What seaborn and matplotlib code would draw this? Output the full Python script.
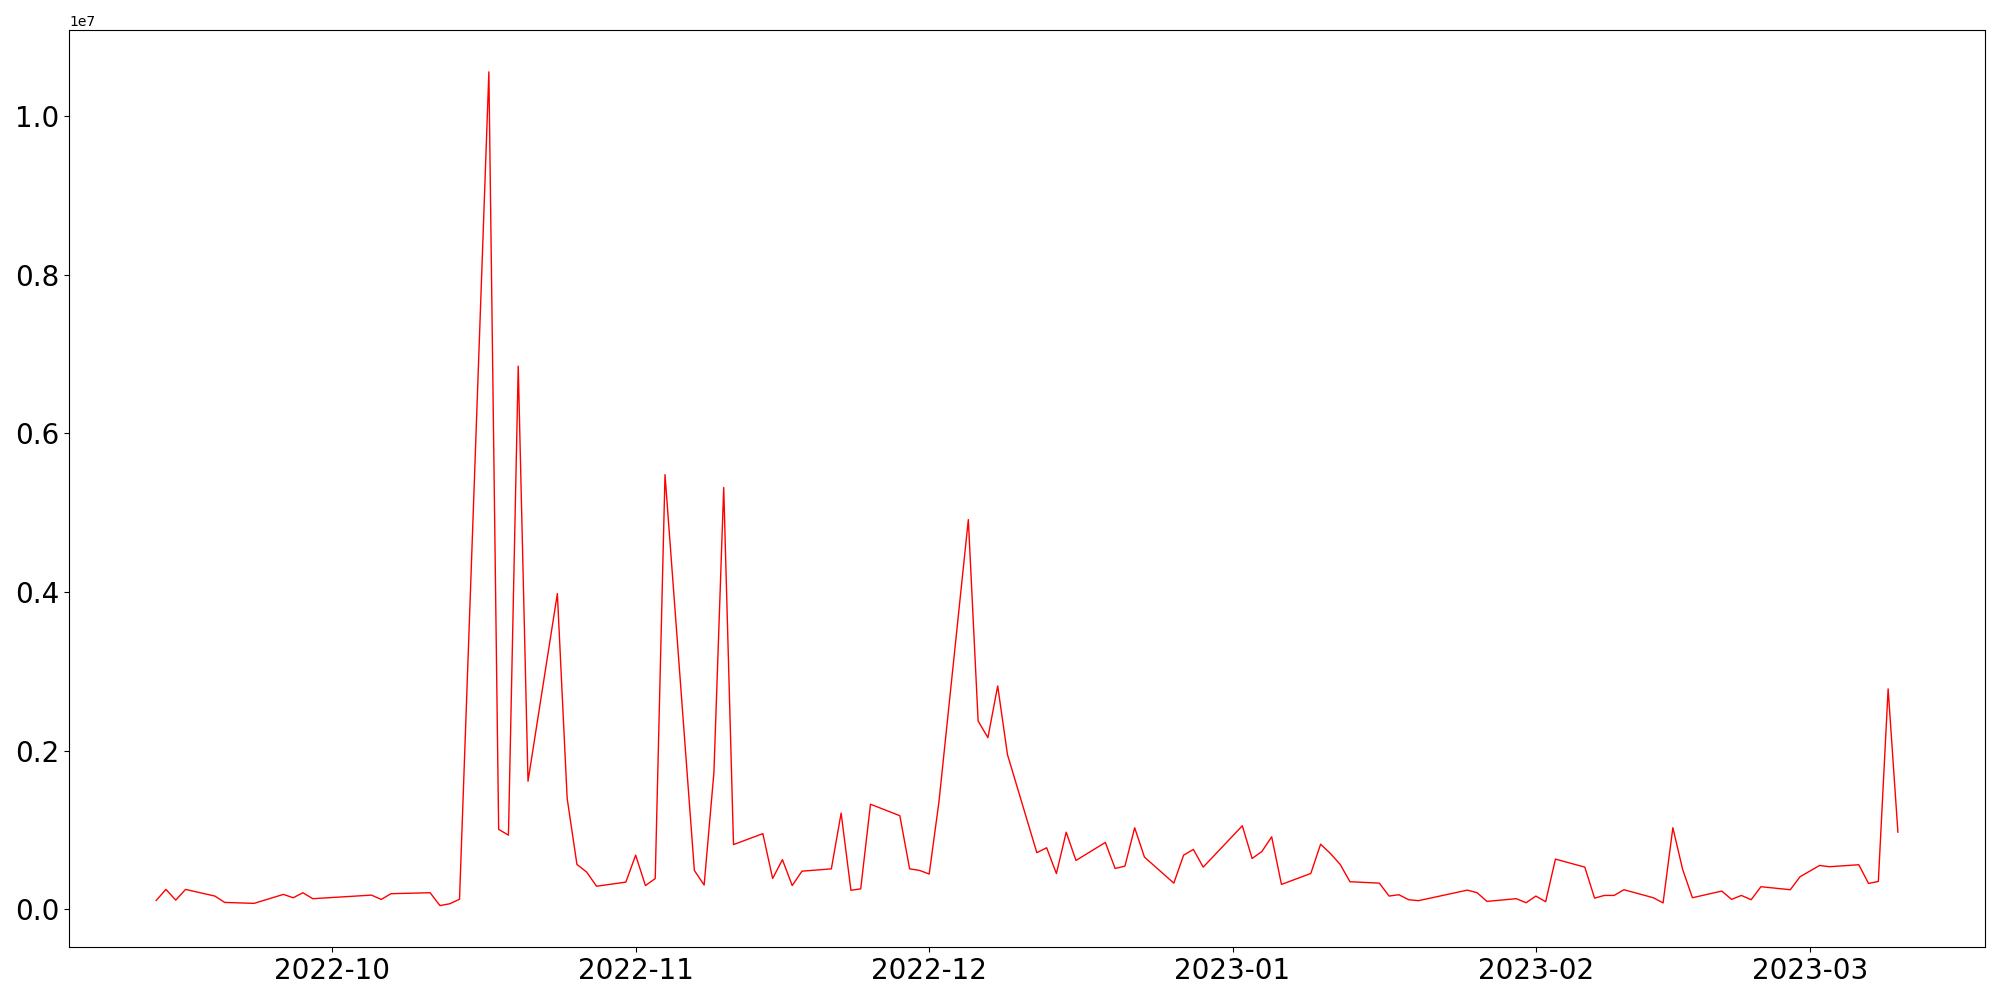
import pandas as pd
import matplotlib
matplotlib.use("Agg")
import matplotlib.pyplot as plt
import seaborn as sns

# daily values
dates = [
    "2022-09-13", "2022-09-14", "2022-09-15", "2022-09-16", "2022-09-19", "2022-09-20",
    "2022-09-23", "2022-09-26", "2022-09-27", "2022-09-28", "2022-09-29", "2022-10-05",
    "2022-10-06", "2022-10-07", "2022-10-11", "2022-10-12", "2022-10-13", "2022-10-14",
    "2022-10-17", "2022-10-18", "2022-10-19", "2022-10-20", "2022-10-21", "2022-10-24",
    "2022-10-25", "2022-10-26", "2022-10-27", "2022-10-28", "2022-10-31", "2022-11-01",
    "2022-11-02", "2022-11-03", "2022-11-04", "2022-11-07", "2022-11-08", "2022-11-09",
    "2022-11-10", "2022-11-11", "2022-11-14", "2022-11-15", "2022-11-16", "2022-11-17",
    "2022-11-18", "2022-11-21", "2022-11-22", "2022-11-23", "2022-11-24", "2022-11-25",
    "2022-11-28", "2022-11-29", "2022-11-30", "2022-12-01", "2022-12-02", "2022-12-05",
    "2022-12-06", "2022-12-07", "2022-12-08", "2022-12-09", "2022-12-12", "2022-12-13",
    "2022-12-14", "2022-12-15", "2022-12-16", "2022-12-19", "2022-12-20", "2022-12-21",
    "2022-12-22", "2022-12-23", "2022-12-26", "2022-12-27", "2022-12-28", "2022-12-29",
    "2023-01-02", "2023-01-03", "2023-01-04", "2023-01-05", "2023-01-06", "2023-01-09",
    "2023-01-10", "2023-01-11", "2023-01-12", "2023-01-13", "2023-01-16", "2023-01-17",
    "2023-01-18", "2023-01-19", "2023-01-20", "2023-01-25", "2023-01-26", "2023-01-27",
    "2023-01-30", "2023-01-31", "2023-02-01", "2023-02-02", "2023-02-03", "2023-02-06",
    "2023-02-07", "2023-02-08", "2023-02-09", "2023-02-10", "2023-02-13", "2023-02-14",
    "2023-02-15", "2023-02-16", "2023-02-17", "2023-02-20", "2023-02-21", "2023-02-22",
    "2023-02-23", "2023-02-24", "2023-02-27", "2023-02-28", "2023-03-02", "2023-03-03",
    "2023-03-06", "2023-03-07", "2023-03-08", "2023-03-09", "2023-03-10",
]
values = [
    113000, 252000, 117000, 252000, 168000, 88000,
    76000, 189000, 147000, 210000, 135000, 180000,
    126000, 198000, 210000, 48000, 71000, 128000,
    10559000, 1009000, 936000, 6849000, 1616000, 3981000,
    1400000, 567000, 470000, 292000, 344000, 684000,
    300000, 389000, 5481000, 491000, 307000, 1727000,
    5319000, 817000, 955000, 390000, 627000, 301000,
    482000, 511000, 1214000, 241000, 259000, 1326000,
    1181000, 511000, 492000, 446000, 1359000, 4914000,
    2375000, 2165000, 2817000, 1951000, 715000, 777000,
    452000, 973000, 617000, 844000, 516000, 545000,
    1029000, 659000, 331000, 684000, 756000, 533000,
    1054000, 642000, 730000, 915000, 315000, 453000,
    822000, 705000, 567000, 349000, 331000, 168000,
    185000, 122000, 110000, 243000, 210000, 101000,
    135000, 84000, 168000, 97000, 634000, 533000,
    142000, 176000, 176000, 248000, 147000, 82000,
    1029000, 504000, 147000, 231000, 126000, 176000,
    122000, 286000, 248000, 412000, 554000, 538000,
    563000, 327000, 353000, 2780000, 974000,
]

df = pd.DataFrame({"date": pd.to_datetime(dates), "value": values})

fig, ax = plt.subplots(figsize=(20, 10), dpi=100)
sns.lineplot(data=df, x="date", y="value", color="red", linewidth=1.0, ax=ax)

ax.set_xlabel("")
ax.set_ylabel("")
ax.tick_params(axis="both", labelsize=20)

plt.tight_layout()
plt.savefig("out.png", dpi=100)
